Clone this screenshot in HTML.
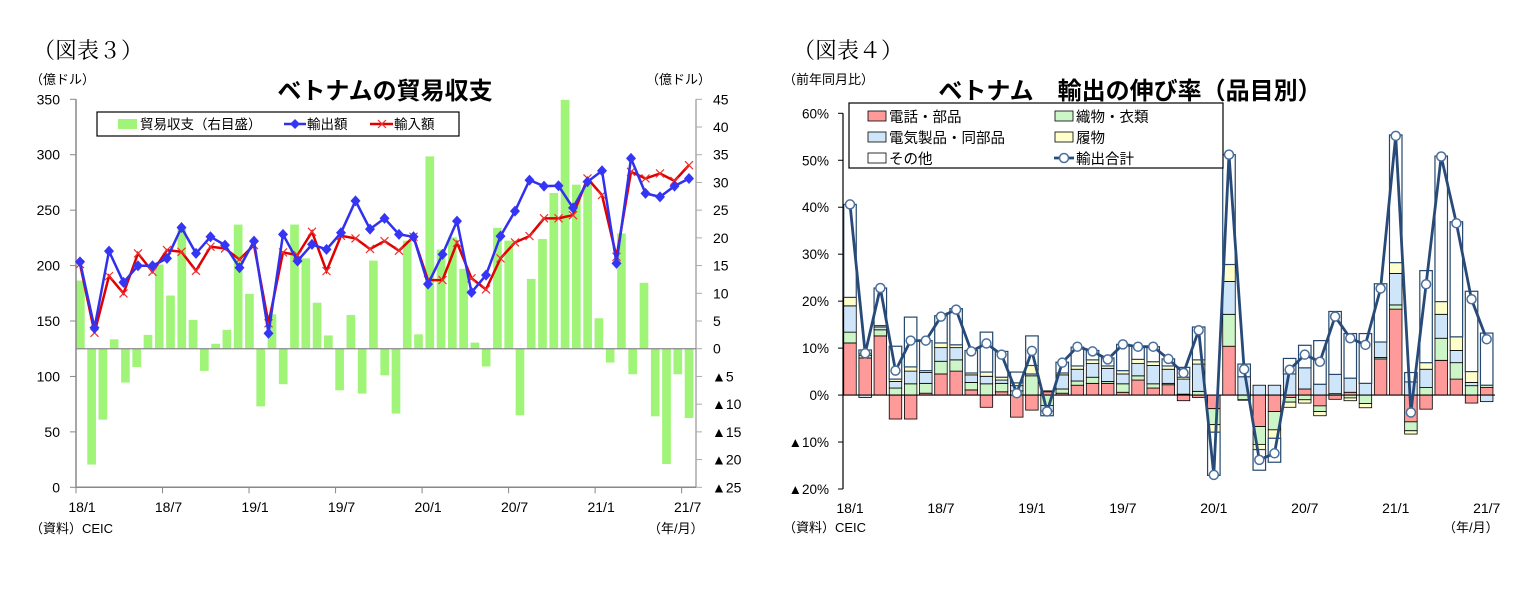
<!DOCTYPE html>
<html><head><meta charset="utf-8"><style>
html,body{margin:0;padding:0;background:#fff;}
svg{display:block;font-family:"Liberation Sans","Noto Sans CJK JP",sans-serif;}
.serif{font-family:"Liberation Serif","Noto Serif CJK SC",serif;}
</style></head><body>
<svg id="svg" width="1534" height="594" viewBox="0 0 1534 594" xmlns="http://www.w3.org/2000/svg">
<g id="c3">
<text x="33" y="58" font-size="22" class="serif">（図表３）</text>
<text x="30" y="84" font-size="13">（億ドル）</text>
<text x="646" y="84" font-size="13">（億ドル）</text>
<text x="385" y="99" font-size="24" font-weight="bold" text-anchor="middle">ベトナムの貿易収支</text>
<text x="30" y="533" font-size="13">（資料）CEIC</text>
<text x="648" y="533" font-size="13">（年/月）</text>
</g>
<g id="c4">
<text x="793" y="58" font-size="22" class="serif">（図表４）</text>
<text x="783" y="84" font-size="13">（前年同月比）</text>
<text x="1130" y="99" font-size="24" font-weight="bold" text-anchor="middle">ベトナム　輸出の伸び率（品目別）</text>
<text x="783" y="532" font-size="13">（資料）CEIC</text>
<text x="1443" y="532" font-size="13">（年/月）</text>
</g>
</svg>
<script>
// ---------- Chart 3 data ----------
const months3 = ["18/1","18/7","19/1","19/7","20/1","20/7","21/1","21/7"];
const leftTicks = [0,50,100,150,200,250,300,350];
const rightTicks = [45,40,35,30,25,20,15,10,5,0,-5,-10,-15,-20,-25];
const balance = [12.3,-20.9,-12.8,1.7,-6.1,-3.3,2.5,15.2,9.6,21.9,5.2,-4.0,0.9,3.4,22.4,9.9,-10.4,6.2,-6.4,22.4,16.3,8.3,2.4,-7.5,6.1,-8.1,15.9,-4.8,-11.7,19.5,2.6,34.7,17.9,20.1,14.4,1.1,-3.2,21.8,19.5,-12.0,12.6,19.8,28.1,44.9,29.6,29.6,5.5,-2.5,20.8,-4.6,11.9,-12.2,-20.8,-4.6,-12.5];
const exportsV = [203.4,143.9,213.1,184.8,199.8,199.8,206.5,234.4,211.0,226.0,218.5,198.0,222.1,138.9,228.1,204.1,219.1,214.6,229.6,258.4,232.9,242.6,228.1,226.0,183.3,210.1,240.1,175.8,191.4,226.6,249.1,277.1,271.7,272.0,252.1,275.6,285.5,202.0,296.7,265.1,262.0,271.7,278.6];
const importsV = [201.4,139.4,190.5,174.9,211.0,194.4,214.0,212.4,195.3,217.0,215.5,205.6,218.5,147.9,211.9,209.5,230.5,195.0,226.9,224.5,215.0,222.1,213.4,226.0,186.9,186.9,220.6,188.5,178.5,206.5,220.9,226.6,242.6,242.6,245.5,278.6,263.6,207.9,284.6,278.6,283.1,276.4,290.6];
// ---------- Chart 4 data ----------
const months4 = ["18/1","18/7","19/1","19/7","20/1","20/7","21/1","21/7"];
const pctTicks = [60,50,40,30,20,10,0,-10,-20];
const phone = [11.1,7.9,12.6,-5.1,-5.1,0.4,4.5,5.1,1.1,-2.6,0.7,-4.7,-3.2,0.7,0.4,2.1,2.5,2.5,0.6,3.2,1.5,2.2,-1.2,-0.5,-2.9,10.4,0,-6.7,-3.5,-0.5,1.3,-2.3,-0.9,0.6,0,7.7,18.3,-5.7,-3.0,7.4,3.4,-1.7,1.6];
const textile = [2.3,0.5,1.3,1.5,2.4,2.1,2.7,2.4,1.6,2.4,1.8,0.9,4.1,-2.2,0.9,0.9,1.3,0.4,1.8,0.9,0.9,0.3,0.2,0.8,-3.4,6.8,-1.0,-3.8,-3.9,-1.0,-1.0,-1.2,0.3,-0.6,-1.8,0.3,0.9,-1.9,1.6,4.7,3.5,2.0,0.5];
const electric = [5.6,-0.5,0.6,1.4,2.7,2.3,2.9,2.6,1.6,1.6,0.7,1.1,0.4,-1.2,3.0,2.5,2.9,2.8,2.1,2.6,3.9,3.0,3.2,5.8,0,7.0,3.9,2.1,2.1,4.5,4.5,2.3,4.1,3.0,2.5,3.3,6.7,2.8,3.9,5.1,2.6,0.7,-1.4];
const footwear = [1.8,0.4,0.3,0.5,0.9,0.4,1.0,0.6,0.4,0.9,0.6,0.6,1.8,0.2,0.4,0.7,0.8,0.5,0.7,0.9,0.8,0.7,0.4,0.9,-1.6,3.6,-0.1,-1.1,-1.8,-1.1,-0.7,-0.9,0,-0.6,-0.9,0,2.3,-0.7,1.4,2.7,2.9,2.3,0];
const other = [19.8,0.8,8.0,7.0,10.6,6.4,5.8,7.7,4.8,8.5,5.5,2.3,6.3,-1.0,2.3,4.0,2.0,1.7,5.6,2.8,3.2,1.5,2.1,7.0,-9.2,23.4,2.7,-4.4,-5.1,3.3,4.8,9.3,13.4,9.5,10.6,12.4,27.2,2.0,19.6,31.0,24.5,17.1,11.1];
const totalV = [40.6,8.9,22.8,5.2,11.6,11.6,16.7,18.2,9.3,11.0,8.6,0.4,9.4,-3.5,6.9,10.3,9.3,7.6,10.8,10.3,10.3,7.7,4.7,13.8,-17.0,51.2,5.5,-13.8,-12.4,5.4,8.6,7.1,16.7,12.1,10.7,22.7,55.2,-3.7,23.6,50.8,36.6,20.4,11.9];

const NS="http://www.w3.org/2000/svg";
function mk(tag,attrs,parent,txt){const e=document.createElementNS(NS,tag);for(const k in attrs)e.setAttribute(k,attrs[k]);if(txt!==undefined)e.textContent=txt;parent.appendChild(e);return e;}
const c3=document.getElementById('c3');
const c4=document.getElementById('c4');

// ---------- Chart 3 axes ----------
const L={x0:76,x1:696,yTop:99.3,yBot:487.3};
const yL=v=>L.yBot-(v/350)*(L.yBot-L.yTop);
const yR=v=>L.yTop+(45-v)/70*(L.yBot-L.yTop);
const barPitch=(L.x1-L.x0)/balance.length;
const barX=i=>L.x0+i*barPitch;
const linePitch=609/(exportsV.length-1);
const lineX=i=>80+i*linePitch;
const tickX3=k=>L.x0+k*6*14.42;

// bars
const gBars=mk('g',{},c3);


balance.forEach((v,i)=>{
  const y0=yR(0),y1=yR(v);
  const r=mk('rect',{x:barX(i),y:Math.min(y0,y1),width:barPitch*0.77,height:Math.abs(y1-y0),fill:'#a0f578'},gBars);
  
  
});
// axes
let a=mk('line',{x1:L.x0,y1:L.yTop,x2:L.x0,y2:L.yBot,stroke:'#888','stroke-width':1.5},c3);


a=mk('line',{x1:L.x1,y1:L.yTop,x2:L.x1,y2:L.yBot,stroke:'#aaa','stroke-width':1.5},c3);


a=mk('line',{x1:L.x0,y1:L.yBot,x2:L.x1,y2:L.yBot,stroke:'#888','stroke-width':1.5},c3);


a=mk('line',{x1:L.x0,y1:yR(0),x2:L.x1,y2:yR(0),stroke:'#888','stroke-width':1.2},c3);


leftTicks.forEach(v=>{
  mk('line',{x1:L.x0-6,y1:yL(v),x2:L.x0,y2:yL(v),stroke:'#888'},c3);
  const t=mk('text',{x:60,y:yL(v)+5,'font-size':14,'text-anchor':'end'},c3,String(v));
  
  
});
rightTicks.forEach(v=>{
  mk('line',{x1:L.x1,y1:yR(v),x2:L.x1+6,y2:yR(v),stroke:'#aaa'},c3);
  const t=mk('text',{x:v<0?712:713,y:yR(v)+5,'font-size':14},c3,v<0?'▲'+(-v):String(v));
  
  
});
months3.forEach((m,k)=>{
  const x=tickX3(k);
  mk('line',{x1:x,y1:L.yBot,x2:x,y2:L.yBot+6,stroke:'#888'},c3);
  const t=mk('text',{x:x+6,y:512,'font-size':14,'text-anchor':'middle'},c3,m);
  
  
});
// lines
function pts(arr){return arr.map((v,i)=>lineX(i).toFixed(1)+','+yL(v).toFixed(1)).join(' ');}
let pl=mk('polyline',{points:pts(importsV),fill:'none',stroke:'#e00000','stroke-width':2.5},c3);


importsV.forEach((v,i)=>{
  const x=lineX(i),y=yL(v);
  const p=mk('path',{d:`M${x-4},${y-4}L${x+4},${y+4}M${x-4},${y+4}L${x+4},${y-4}`,stroke:'#f03030','stroke-width':1.2},c3);
  
  
});
pl=mk('polyline',{points:pts(exportsV),fill:'none',stroke:'#3030ee','stroke-width':2.5},c3);


exportsV.forEach((v,i)=>{
  const x=lineX(i),y=yL(v);
  const p=mk('path',{d:`M${x},${y-5.5}L${x+5},${y}L${x},${y+5.5}L${x-5},${y}Z`,fill:'#3535f5'},c3);
  
  
});
// legend 3
const lg3=mk('g',{},c3);


mk('rect',{x:97,y:112,width:362,height:24,fill:'#fff',stroke:'#000','stroke-width':1.2},lg3);
mk('rect',{x:118,y:119,width:19,height:10,fill:'#a0f578'},lg3);
let lt=mk('text',{x:140,y:129,'font-size':13.5},lg3,'貿易収支（右目盛）');


mk('line',{x1:284,y1:124,x2:306,y2:124,stroke:'#3030ee','stroke-width':2.5},lg3);
mk('path',{d:'M295,119L300,124L295,129L290,124Z',fill:'#3535f5'},lg3);
lt=mk('text',{x:307,y:129,'font-size':13.5},lg3,'輸出額');


mk('line',{x1:370,y1:124,x2:393,y2:124,stroke:'#e00000','stroke-width':2.5},lg3);
mk('path',{d:'M378,120L386,128M378,128L386,120',stroke:'#f03030','stroke-width':1.2},lg3);
lt=mk('text',{x:394,y:129,'font-size':13.5},lg3,'輸入額');



// ---------- Chart 4 ----------
const R={x0:843,yTop:113.3,yBot:489};
const yP=v=>R.yTop+(60-v)/80*(R.yBot-R.yTop);
const pitch4=(1486.7-850)/(totalV.length-1);
const x4=i=>850+i*pitch4;
const bw=12.5;
const comps=[[phone,'#ff9a9a','phone-bar'],[textile,'#ccf5c8','textile-bar'],[electric,'#cfe6fa','electric-bar'],[footwear,'#ffffcc','footwear-bar'],[other,'#ffffff','other-bar']];
const gSt=mk('g',{},c4);


totalV.forEach((tv,i)=>{
  let pos=0,neg=0;
  comps.forEach(([arr,col,nm],ci)=>{
    const v=arr[i]; if(!v) return;
    let a0,a1;
    if(v>0){a0=pos;a1=pos+v;pos=a1;}else{a0=neg;a1=neg+v;neg=a1;}
    const ya=yP(a0),yb=yP(a1);
    const r=mk('rect',{x:x4(i)-bw/2,y:Math.min(ya,yb),width:bw,height:Math.abs(yb-ya),fill:col,stroke:ci===4?'#24476b':'#000','stroke-width':ci===4?1.2:0.8},gSt);
    
    
  });
});
a=mk('line',{x1:R.x0,y1:R.yTop,x2:R.x0,y2:R.yBot,stroke:'#000','stroke-width':1.2},c4);


a=mk('line',{x1:R.x0,y1:yP(0),x2:1495,y2:yP(0),stroke:'#000','stroke-width':1.2},c4);


pctTicks.forEach(v=>{
  mk('line',{x1:R.x0-5,y1:yP(v),x2:R.x0,y2:yP(v),stroke:'#000'},c4);
  const t=mk('text',{x:829,y:yP(v)+5,'font-size':13.5,'text-anchor':'end'},c4,v<0?'▲'+(-v)+'%':v+'%');
  
  
});
months4.forEach((m,k)=>{
  const t=mk('text',{x:x4(k*6),y:513,'font-size':14,'text-anchor':'middle'},c4,m);
  
  
});
pl=mk('polyline',{points:totalV.map((v,i)=>x4(i).toFixed(1)+','+yP(v).toFixed(1)).join(' '),fill:'none',stroke:'#284a78','stroke-width':2.8},c4);


totalV.forEach((v,i)=>{
  const c=mk('circle',{cx:x4(i),cy:yP(v),r:4.5,fill:'#fff',stroke:'#4a6f9c','stroke-width':1.5},c4);
  
  
});
// legend 4
const lg4=mk('g',{},c4);


mk('rect',{x:849,y:103,width:374,height:65,fill:'#fff',stroke:'#000','stroke-width':1.2},lg4);
const items=[[868,116,'#ff9a9a','電話・部品'],[1055,116,'#ccf5c8','織物・衣類'],[868,137,'#cfe6fa','電気製品・同部品'],[1055,137,'#ffffcc','履物'],[868,158,'#ffffff','その他']];
items.forEach(([x,y,col,lab])=>{
  mk('rect',{x:x,y:y-5,width:18,height:10,fill:col,stroke:'#000','stroke-width':0.8},lg4);
  const t=mk('text',{x:x+21,y:y+6,'font-size':14.5},lg4,lab);
  
  
});
mk('line',{x1:1054,y1:158,x2:1074,y2:158,stroke:'#284a78','stroke-width':2.8},lg4);
mk('circle',{cx:1064,cy:158,r:4.5,fill:'#fff',stroke:'#4a6f9c','stroke-width':1.5},lg4);
lt=mk('text',{x:1076,y:164,'font-size':14.5},lg4,'輸出合計');


</script>
</body></html>
